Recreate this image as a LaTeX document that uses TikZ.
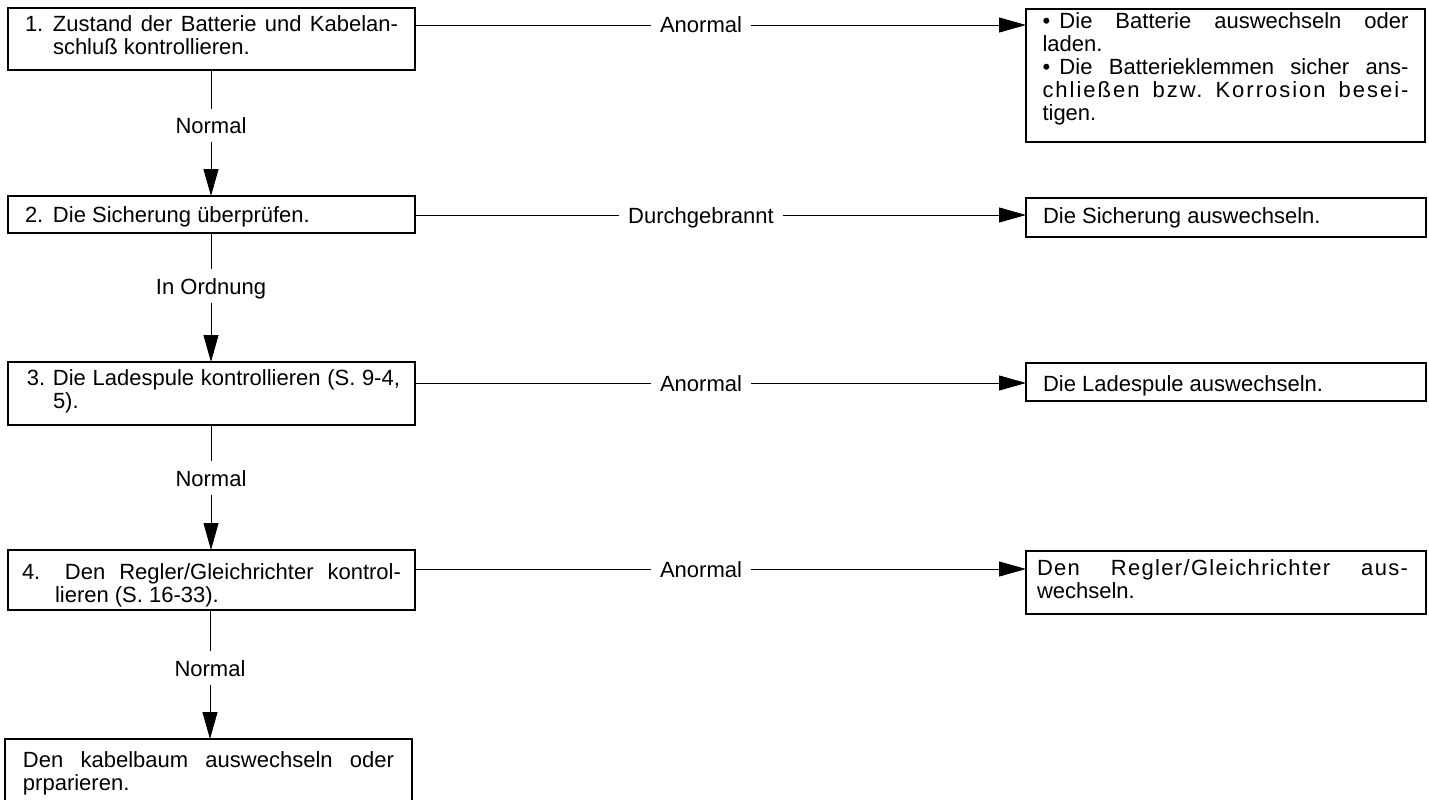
\documentclass[tikz,border=0pt]{standalone}
\usepackage{fontspec}
\setmainfont{Liberation Sans}
% letter-spaced variants for lines that are justified by tracking
\newfontfamily\trackedwide[LetterSpace=9]{Liberation Sans}
\newfontfamily\trackednarrow[LetterSpace=6]{Liberation Sans}
\usetikzlibrary{arrows.meta}
% numbered step: label in a box of width #1, following lines hang by #2
\newcommand\stepitem[3]{\noindent\hangindent=#2\relax\hangafter=1\relax\hbox to #1{#3\hfil}}
% bullet with a fixed gap before its text
\newcommand\bulletitem{\noindent\hbox to 17pt{•\hfil}}
\hbadness=10000
\begin{document}
\begin{tikzpicture}[x=1pt,y=-1pt,
  txt/.style={font=\fontsize{22}{23}\selectfont\frenchspacing},
  box/.style={txt,draw=black,line width=1.1pt,anchor=north west,outer sep=0pt,
    inner ysep=0pt,align=justify},
  lbl/.style={txt,inner ysep=0pt,text height=16pt,text depth=0pt},
  hlbl/.style={lbl,inner xsep=9pt},
  vlbl/.style={lbl,inner xsep=2pt,minimum height=33pt},
  conn/.style={draw=black,line width=0.9pt},
  arr/.style={-{Triangle[length=27pt,width=15pt]}}]
\useasboundingbox (0,0) rectangle (1429,800);

% steps of the check (left column)
\node[box,inner xsep=17pt,text width=373pt,text height=24pt,text depth=38pt] (b1) at (8,8)
  {\stepitem{28pt}{28pt}{1.}Zustand der Batterie und Kabelan-\linebreak schluß kontrollieren.\par};
\node[box,inner xsep=17pt,text width=373pt,text height=26pt,text depth=11pt] (b2) at (8,196)
  {\stepitem{28pt}{28pt}{2.}Die Sicherung überprüfen.\par};
\node[box,inner xsep=15pt,text width=377pt,text height=23pt,text depth=40pt] (b3) at (8,362)
  {\stepitem{30pt}{30pt}{\hspace{4pt}3.}Die Ladespule kontrollieren (S.~\mbox{9-4,}\linebreak 5).\par};
\node[box,inner xsep=14pt,text width=379pt,text height=29pt,text depth=31pt] (b4) at (8,550)
  {\stepitem{43pt}{33pt}{4.}Den Regler/Gleichrichter kontrol-\linebreak lieren (S.~\mbox{16-33}).\par};
\node[box,inner xsep=18pt,text width=371pt,text height=28pt,text depth=60pt] (b5) at (5,739)
  {\noindent Den kabelbaum auswechseln oder\linebreak prparieren.\par};

% remedies (right column)
\node[box,inner xsep=16.5pt,text width=366pt,text height=20pt,text depth=113pt] (r1) at (1026,9)
  {\bulletitem Die Batterie auswechseln oder\linebreak laden.\par
   \bulletitem Die Batterieklemmen sicher ans-\linebreak {\trackedwide chließen bzw. Korrosion besei-}\linebreak tigen.\par};
\node[box,inner xsep=17pt,text width=366pt,text height=25pt,text depth=14pt] (r2) at (1026,198)
  {\noindent Die Sicherung auswechseln.\par};
\node[box,inner xsep=17pt,text width=366pt,text height=28pt,text depth=10pt] (r3) at (1026,363)
  {\noindent Die Ladespule auswechseln.\par};
\node[box,inner xsep=11pt,text width=378pt,text height=24pt,text depth=39pt] (r4) at (1026,551)
  {\noindent\hangindent=-7pt\relax\hangafter=0\relax {\trackednarrow Den Regler/Gleichrichter aus-}\linebreak wechseln.\par};

% branch labels
\node[hlbl] (h1) at (701,25)  {Anormal};
\node[hlbl] (h2) at (701,215) {Durchgebrannt};
\node[hlbl] (h3) at (701,383) {Anormal};
\node[hlbl] (h4) at (701,569) {Anormal};
\node[vlbl] (v1) at (211,125.5) {Normal};
\node[vlbl] (v2) at (211,286)   {In Ordnung};
\node[vlbl] (v3) at (211,478)   {Normal};
\node[vlbl] (v4) at (210,668)   {Normal};

% downward path
\draw[conn] (b1.south -| v1) -- (v1.north);
\draw[conn,arr] (v1.south) -- (v1 |- b2.north);
\draw[conn] (b2.south -| v2) -- (v2.north);
\draw[conn,arr] (v2.south) -- (v2 |- b3.north);
\draw[conn] (b3.south -| v3) -- (v3.north);
\draw[conn,arr] (v3.south) -- (v3 |- b4.north);
\draw[conn] (b4.south -| v4) -- (v4.north);
\draw[conn,arr] (v4.south) -- (v4 |- b5.north);

% side branches
\draw[conn] (b1.east |- h1) -- (h1.west);
\draw[conn,arr] (h1.east) -- (r1.west |- h1);
\draw[conn] (b2.east |- h2) -- (h2.west);
\draw[conn,arr] (h2.east) -- (r2.west |- h2);
\draw[conn] (b3.east |- h3) -- (h3.west);
\draw[conn,arr] (h3.east) -- (r3.west |- h3);
\draw[conn] (b4.east |- h4) -- (h4.west);
\draw[conn,arr] (h4.east) -- (r4.west |- h4);
\end{tikzpicture}
\end{document}
